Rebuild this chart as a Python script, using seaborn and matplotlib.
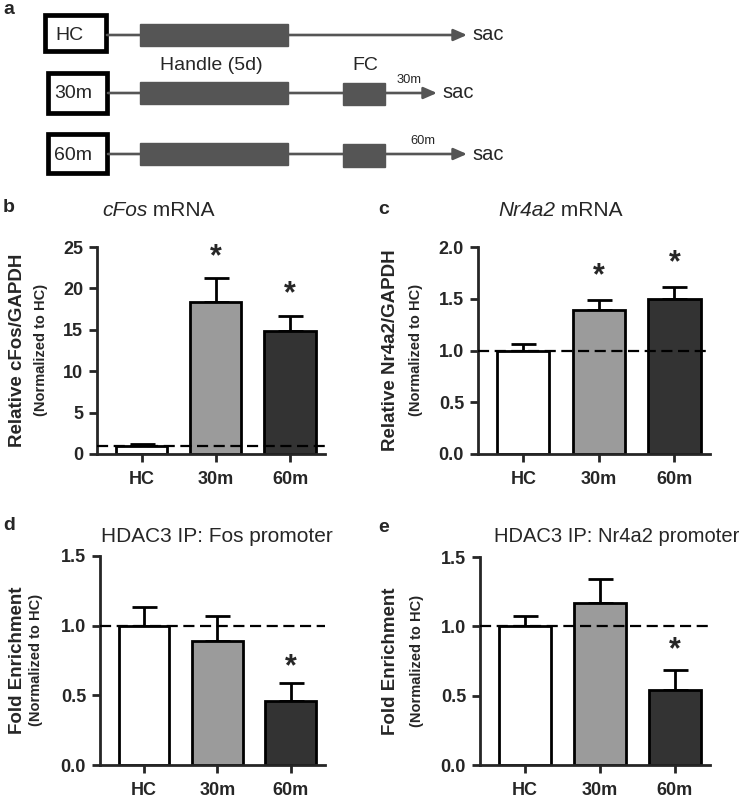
"""HDAC3 fear-conditioning figure: timeline diagram plus four bar panels."""

import matplotlib
matplotlib.use("Agg")

import matplotlib.pyplot as plt
import numpy as np
import pandas as pd
import seaborn as sns
from matplotlib.patches import Rectangle

W, H = 747, 800

groups = ["HC", "30m", "60m"]
bar_colors = ["#ffffff", "#9b9b9b", "#333333"]

cfos_mean = [1.0, 18.4, 14.9]
cfos_sem = [0.15, 2.8, 1.8]
cfos_sig = [False, True, True]

nr4a2_mean = [1.0, 1.39, 1.50]
nr4a2_sem = [0.065, 0.10, 0.11]
nr4a2_sig = [False, True, True]

fos_chip_mean = [1.0, 0.89, 0.46]
fos_chip_sem = [0.135, 0.18, 0.125]
fos_chip_sig = [False, False, True]

nr4a2_chip_mean = [1.0, 1.17, 0.54]
nr4a2_chip_sem = [0.075, 0.17, 0.145]
nr4a2_chip_sig = [False, False, True]

sns.set_style("ticks")
plt.rcParams["font.family"] = ["Liberation Sans", "DejaVu Sans"]


def fig_axes(fig, left, top, right, bottom):
    """Axes placed by pixel box (top-left origin)."""
    return fig.add_axes([left / W, 1 - bottom / H, (right - left) / W, (bottom - top) / H])


def ftext(fig, x, y, s, **kw):
    return fig.text(x / W, 1 - y / H, s, **kw)


def bar_panel(ax, means, sems, sig, ymax, step, fmt, star_off):
    df = pd.DataFrame({"group": groups, "value": means})
    sns.barplot(data=df, x="group", y="value", hue="group", palette=bar_colors,
                edgecolor="black", linewidth=2, width=0.69, legend=False, ax=ax,
                zorder=2)
    ax.errorbar(np.arange(3), means, yerr=[np.zeros(3), sems], fmt="none",
                ecolor="black", elinewidth=2, capsize=9, capthick=2, zorder=1)
    ax.axhline(1.0, color="black", lw=1.6, ls=(0, (5, 2.5)), zorder=3)
    for i, flag in enumerate(sig):
        if flag:
            ax.text(i, means[i] + sems[i] + star_off, "*", ha="center", va="center",
                    fontsize=22, fontweight="bold")
    ax.set_xlim(-0.6, 2.47)
    ax.set_ylim(0, ymax)
    ticks = np.arange(0, ymax + step / 2, step)
    ax.set_yticks(ticks)
    ax.set_yticklabels([fmt.format(v) for v in ticks])
    ax.set_xlabel("")
    ax.set_ylabel("")
    sns.despine(ax=ax)
    for side in ("left", "bottom"):
        ax.spines[side].set_linewidth(2)
    ax.tick_params(width=2, length=6, labelsize=13, pad=4)
    ax.tick_params(axis="x", pad=6)
    for lab in ax.get_xticklabels() + ax.get_yticklabels():
        lab.set_fontweight("bold")
    ax.patch.set_alpha(0)


fig = plt.figure(figsize=(W / 100, H / 100), dpi=100)

# ---- panel a: experimental timeline ----
ax0 = fig.add_axes([0, 1 - 190 / H, 1, 190 / H])
ax0.set_xlim(0, W)
ax0.set_ylim(190, 0)
ax0.axis("off")
grey = "#555555"
rows = [
    # box (x, y, w, h), line y, fc rect, arrow end, sac x, time label
    ((45, 15, 61, 36), 35, None, 467, 470, None),
    ((48, 73, 59, 40), 93, (343, 83, 42, 22), 437, 440, ("30m", 409, 80)),
    ((48, 134, 59, 39), 154, (343, 144, 42, 23), 467, 470, ("60m", 423, 141)),
]
for box, ly, fc, xend, sacx, tlabel in rows:
    ax0.add_patch(Rectangle(box[:2], box[2], box[3], fill=True, facecolor="white",
                            edgecolor="black", lw=3.4, zorder=3))
    ax0.annotate("", xy=(xend, ly), xytext=(box[0] + box[2] + 1, ly),
                 arrowprops=dict(arrowstyle="-|>,head_length=0.8,head_width=0.35",
                                 color=grey, lw=1.9, shrinkA=0, shrinkB=0))
    ax0.add_patch(Rectangle((140, ly - 11), 148, 22, color=grey, zorder=2))
    if fc is not None:
        ax0.add_patch(Rectangle(fc[:2], fc[2], fc[3], color=grey, zorder=2))
    ax0.text(sacx + 2, ly, "sac", ha="left", va="center", fontsize=14.5)
    if tlabel is not None:
        ax0.text(tlabel[1], tlabel[2], tlabel[0], ha="center", va="center", fontsize=9.3)
ax0.text(55, 35, "HC", ha="left", va="center", fontsize=14, zorder=4)
ax0.text(54, 94, "30m", ha="left", va="center", fontsize=14, zorder=4)
ax0.text(54, 155, "60m", ha="left", va="center", fontsize=14, zorder=4)
ax0.text(211, 66, "Handle (5d)", ha="center", va="center", fontsize=14)
ax0.text(365, 66, "FC", ha="center", va="center", fontsize=14)

# ---- bar panels ----
ax_b = fig_axes(fig, 97, 247, 325, 454)
bar_panel(ax_b, cfos_mean, cfos_sem, cfos_sig, 25, 5, "{:.0f}", 2.6)
ax_c = fig_axes(fig, 478, 247, 710, 454)
bar_panel(ax_c, nr4a2_mean, nr4a2_sem, nr4a2_sig, 2.0, 0.5, "{:.1f}", 0.23)
ax_d = fig_axes(fig, 100, 556, 325, 765)
bar_panel(ax_d, fos_chip_mean, fos_chip_sem, fos_chip_sig, 1.5, 0.5, "{:.1f}", 0.117)
ax_e = fig_axes(fig, 480, 557, 710, 765)
bar_panel(ax_e, nr4a2_chip_mean, nr4a2_chip_sem, nr4a2_chip_sig, 1.5, 0.5, "{:.1f}", 0.144)

# titles: italic gene name followed by upright " mRNA"
for x0, gene in [(102, "cFos"), (498, "Nr4a2")]:
    t = ftext(fig, x0, 210, gene, ha="left", va="center", fontsize=15, style="italic")
    ax0.annotate(" mRNA", xy=(1, 0), xycoords=t, ha="left", va="bottom",
                 fontsize=15, annotation_clip=False)
ftext(fig, 217, 537, "HDAC3 IP: Fos promoter", ha="center", va="center", fontsize=15)
ftext(fig, 617, 537, "HDAC3 IP: Nr4a2 promoter", ha="center", va="center", fontsize=14.5)

# y labels (two lines, different sizes)
ylabels = [
    (18, 41, 350, "Relative cFos/GAPDH"),
    (391, 416, 350, "Relative Nr4a2/GAPDH"),
    (18, 36, 660, "Fold Enrichment"),
    (391, 417, 661, "Fold Enrichment"),
]
for x1, x2, yc, main in ylabels:
    ftext(fig, x1, yc, main, rotation=90, ha="center", va="center",
          fontsize=13.5, fontweight="bold")
    ftext(fig, x2, yc, "(Normalized to HC)", rotation=90, ha="center", va="center",
          fontsize=10.5, fontweight="bold")

# panel letters
for letter, x, y in [("a", 9, 10), ("b", 9, 208), ("c", 384, 210),
                     ("d", 9, 525), ("e", 384, 527)]:
    ftext(fig, x, y, letter, ha="center", va="center", fontsize=14, fontweight="bold")

fig.savefig("out.png", dpi=100)
plt.close(fig)
